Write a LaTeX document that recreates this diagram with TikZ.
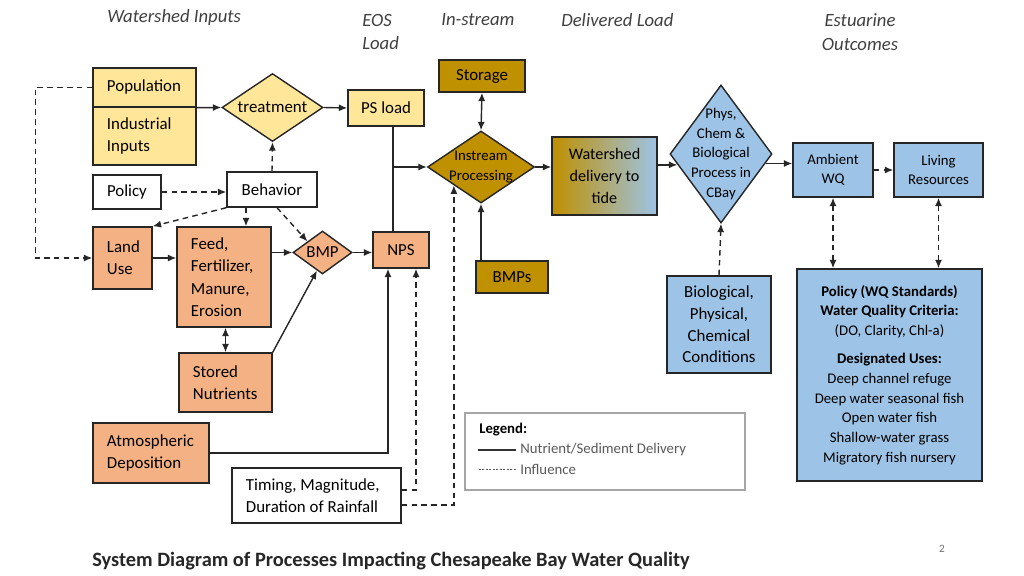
\documentclass[tikz,border=0pt]{standalone}
\usepackage{fontspec}
\setmainfont{Carlito}
\usetikzlibrary{arrows.meta,shapes.geometric}
\definecolor{psYellow}{HTML}{FFE699}
\definecolor{npsOrange}{HTML}{F4B183}
\definecolor{streamGold}{HTML}{BF9000}
\definecolor{bayBlue}{HTML}{9DC3E6}
\definecolor{hdrGray}{HTML}{404040}
\definecolor{legGray}{HTML}{595959}

\begin{document}
\begin{tikzpicture}[x=0.025cm, y=-0.025cm, font=\fontsize{12}{15.5}\selectfont,
  >={Latex[length=6pt,width=5pt]},
  box/.style={draw=black!85, line width=1pt, inner sep=0pt, align=center},
  lbox/.style={box, align=flush left, inner xsep=0.35cm},
  diam/.style={draw=black!85, line width=1pt, diamond, inner sep=0pt},
  smalltxt/.style={font=\fontsize{10.5}{14}\selectfont},
  hdr/.style={font=\fontsize{13.3}{17}\selectfont\itshape, text=hdrGray, inner sep=0pt},
  txt/.style={inner sep=0pt, anchor=west},
  flow/.style={draw=black!85, line width=1pt, ->},
  infl/.style={flow, dash pattern=on 4pt off 3pt}]
  \useasboundingbox (0,0) rectangle (1024,576);
  % column headers
  \node[hdr, anchor=west] (hin) at (107,18) {Watershed Inputs};
  \node[hdr, anchor=west, align=left] (heos) at (362,32) {EOS\\Load};
  \node[hdr, anchor=west] (hstr) at (441,20) {In-stream};
  \node[hdr, anchor=west] (hdel) at (561,20) {Delivered Load};
  \node[hdr, align=center] (hest) at (860,32) {Estuarine\\Outcomes};
  % watershed inputs
  \node[lbox, fill=psYellow, text width=1.875cm, minimum height=0.975cm] (pop) at (144.5,87.5) {Population};
  \node[lbox, fill=psYellow, text width=1.875cm, minimum height=1.45cm] (ind) at (144.5,136) {Industrial\\Inputs};
  \node[diam, fill=psYellow, minimum width=2.525cm, minimum height=1.7cm, label=center:treatment] (treat) at (272.5,107.5) {};
  \node[box, fill=psYellow, minimum width=1.9cm, minimum height=0.9cm] (psl) at (386,108) {PS load};
  \node[box, fill=white, minimum width=1.7cm, minimum height=0.85cm] (pol) at (127,192) {Policy};
  \node[box, fill=white, minimum width=2.25cm, minimum height=0.875cm] (beh) at (272,189.5) {Behavior};
  \node[lbox, fill=npsOrange, text width=0.775cm, minimum height=1.55cm] (land) at (122.5,258) {Land\\Use};
  \node[lbox, fill=npsOrange, text width=1.65cm, minimum height=2.5cm, font=\fontsize{12}{16}\selectfont] (feed) at (224,277) {Feed,\\Fertilizer,\\Manure,\\Erosion};
  \node[diam, fill=npsOrange, minimum width=1.475cm, minimum height=1.075cm, label=center:BMP] (bmp) at (322.5,252.5) {};
  \node[box, fill=npsOrange, minimum width=1.4cm, minimum height=0.9cm] (nps) at (401,250) {NPS};
  \node[lbox, fill=npsOrange, text width=1.625cm, minimum height=1.475cm] (stn) at (225.5,382.5) {Stored\\Nutrients};
  \node[lbox, fill=npsOrange, text width=2.2cm, minimum height=1.5cm] (atm) at (151,453) {Atmospheric\\Deposition};
  \node[lbox, fill=white, text width=3.525cm, minimum height=1.375cm] (tim) at (316.5,495.5) {Timing, Magnitude,\\Duration of Rainfall};
  % in-stream
  \node[box, fill=streamGold, minimum width=2.15cm, minimum height=0.8cm] (stor) at (482,76) {Storage};
  \node[diam, fill=streamGold, minimum width=2.675cm, minimum height=1.8cm,
    label={[smalltxt, align=center]center:Instream\\Processing}] (instr) at (481,167) {};
  \node[box, fill=streamGold, minimum width=1.8cm, minimum height=0.8cm] (bmps) at (512,277) {BMPs};
  % delivered load
  \node[box, left color=streamGold, right color=bayBlue, minimum width=2.625cm, minimum height=1.95cm,
    font=\fontsize{11.5}{15.5}\selectfont] (wdel) at (604.5,176) {Watershed\\delivery to\\tide};
  \node[diam, fill=bayBlue, minimum width=2.55cm, minimum height=3.45cm,
    label={[smalltxt, align=center]center:Phys,\\Chem \&\\Biological\\Process in\\CBay}] (phys) at (721,154) {};
  \node[box, fill=bayBlue, minimum width=2.6cm, minimum height=2.425cm] (bio) at (719,324.5) {Biological,\\Physical,\\Chemical\\Conditions};
  % estuarine outcomes
  \node[box, fill=bayBlue, minimum width=2cm, minimum height=1.35cm, smalltxt] (amb) at (833,170) {Ambient\\WQ};
  \node[box, fill=bayBlue, minimum width=2.225cm, minimum height=1.35cm, smalltxt] (liv) at (938.5,170) {Living\\Resources};
  \node[box, fill=bayBlue, minimum width=4.625cm, minimum height=5.3cm, smalltxt] (wqs) at (889.5,375)
    {\textbf{Policy (WQ Standards)}\\\textbf{Water Quality Criteria:}\\(DO, Clarity, Chl-a)\\[1.2ex]
     \textbf{Designated Uses:}\\Deep channel refuge\\Deep water seasonal fish\\Open water fish\\Shallow-water grass\\Migratory fish nursery};
  % delivery (solid)
  \draw[flow] (pop.south east) -- (treat.west);
  \draw[flow] (treat.east) -- (psl.west);
  \draw[flow] (land.east) -- (land.east -| feed.west);
  \draw[flow] (feed.east |- bmp.west) -- (bmp.west);
  \draw[flow] (bmp.east) -- (bmp.east -| nps.west);
  \draw[flow, <->] (stn.north) -- (stn.north |- feed.south);
  \draw[flow] (stn.north east) -- (bmp.253);
  \draw[flow] (atm.east) -| ([xshift=-0.325cm]nps.south);
  \coordinate (jn) at ([xshift=0.175cm]psl.south);
  \draw[flow, -] (jn) -- (jn |- nps.north);
  \draw[flow] (jn |- instr.west) -- (instr.west);
  \draw[flow, <->] (stor.south) -- (instr.north);
  \draw[flow] (bmps.north -| instr.south) -- (instr.south);
  \draw[flow] (instr.east) -- (instr.east -| wdel.west);
  \draw[flow] (wdel.east |- phys.194) -- (phys.194);
  \draw[flow] (phys.-12) -- (phys.-12 -| amb.west);
  % influence (dashed)
  \draw[infl] (pol.east) -- (pol.east -| beh.west);
  \draw[infl] (beh.north) -- (treat.south);
  \draw[infl] (beh.south west) -- (land.north east);
  \draw[infl] ([xshift=-0.65cm]beh.south) -- ([xshift=-0.65cm]beh.south |- feed.north);
  \draw[infl] ([xshift=0.125cm]beh.south) -- (bmp.north west);
  \draw[infl] (pop.west) -- ++(-57,0) |- (land.west);
  \draw[infl] ([yshift=0.14cm]tim.east) -| ([xshift=0.375cm]nps.south);
  \draw[infl] ([yshift=-0.24cm]tim.east) -| (instr.south west);
  \draw[infl] (amb.east) -- (liv.west);
  \draw[infl] (bio.north) -- (phys.south);
  \draw[infl, <->] (amb.south) -- (amb.south |- wqs.north);
  \draw[infl, <->] (liv.south) -- (liv.south |- wqs.north);
  % legend
  \node[box, draw=black!35, minimum width=7cm, minimum height=1.925cm] (leg) at (605,451.5) {};
  \node[txt, font=\fontsize{10.5}{14}\selectfont\bfseries] (legt) at (479,430) {Legend:};
  \node[txt, smalltxt, text=legGray] (ldel) at (520,450) {Nutrient/Sediment Delivery};
  \node[txt, smalltxt, text=legGray] (linf) at (520,469) {Influence};
  \draw[black!80, line width=0.8pt] ([xshift=-0.1cm]ldel.west) -- ++(-38,0);
  \draw[legGray, line width=0.6pt, dash pattern=on 1.5pt off 1pt] ([xshift=-0.1cm]linf.west) -- ++(-38,0);
  % caption
  \node[txt, font=\fontsize{14.5}{17}\selectfont\bfseries, text=black!85] (ttl) at (92,561) {System Diagram of Processes Impacting Chesapeake Bay Water Quality};
  \node[font=\fontsize{8}{10}\selectfont, text=black!55] (pg) at (942,549) {2};
\end{tikzpicture}
\end{document}
